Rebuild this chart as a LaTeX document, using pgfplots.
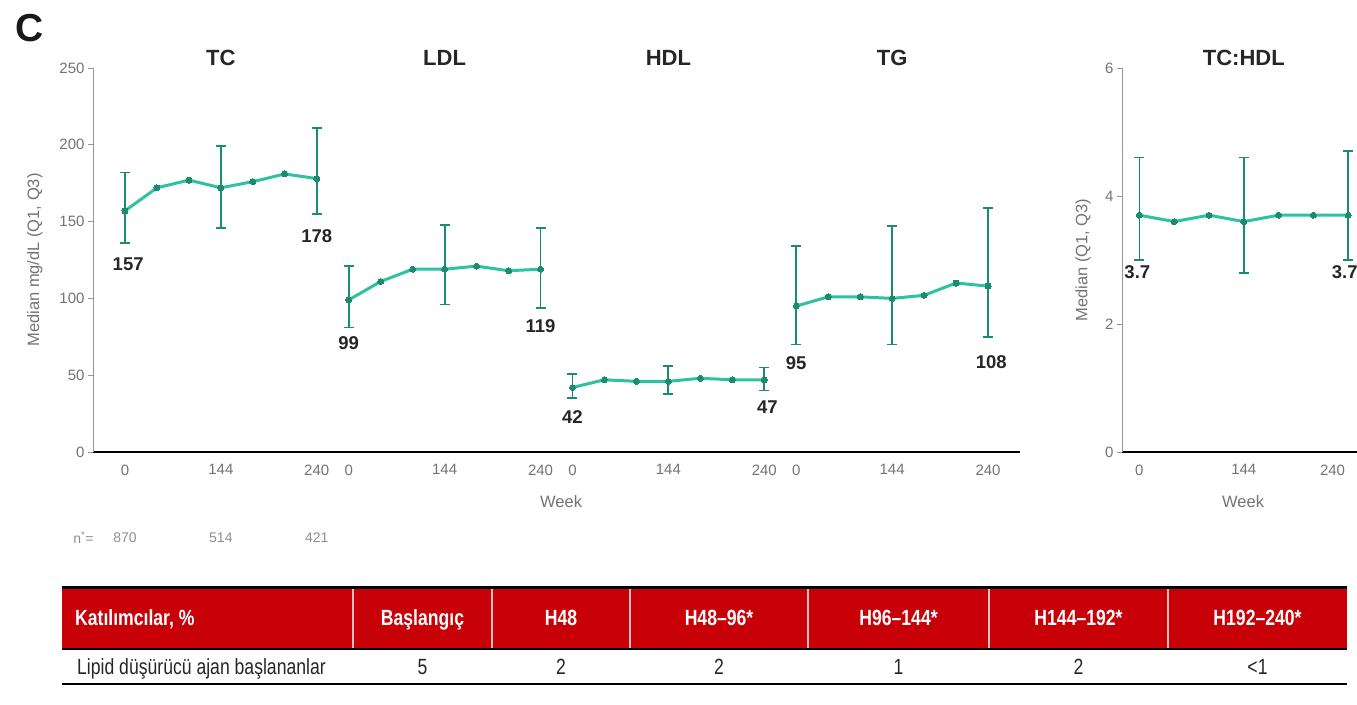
\documentclass[border=0pt]{standalone}
\usepackage{fontspec}
\setmainfont{Liberation Sans}
\newfontfamily\narrowfont[FakeStretch=0.8]{Liberation Sans}
\usepackage{pgfplots}
\pgfplotsset{compat=1.18}

\definecolor{lineteal}{RGB}{45,194,162}
\definecolor{barteal}{RGB}{28,140,112}
\definecolor{tickgray}{RGB}{115,115,115}
\definecolor{axisgray}{RGB}{150,150,150}
\definecolor{hdrred}{RGB}{200,0,8}
\definecolor{sepline}{RGB}{245,190,190}

\pgfplotsset{
  lipid/.style={
    scale only axis, height=384pt, ymin=0, clip=false,
    axis x line*=bottom, axis y line*=left,
    axis line style={-},
    x axis line style={line width=2pt, black},
    y axis line style={line width=0.8pt, axisgray},
    major x tick style={draw=none},
    major y tick style={axisgray, line width=0.8pt},
    tick align=outside, major tick length=5pt,
    /pgf/number format/assume math mode=true,
    tick label style={font=\fontsize{15}{15}\selectfont, text=tickgray},
    xticklabel style={yshift=-4pt},
    label style={font=\fontsize{16.5}{16.5}\selectfont, text=tickgray},
  },
  median/.style={lineteal, line width=3pt, mark=*, mark size=3pt,
    mark options={fill=barteal, draw=barteal, line width=0pt}},
  iqr/.style={draw=none, mark=none, forget plot,
    error bars/.cd, y dir=both, y explicit,
    error bar style={draw=barteal, line width=1.8pt},
    error mark options={rotate=90, draw=barteal, mark size=5pt, line width=1.8pt}},
}
\tikzset{
  vlbl/.style={font=\bfseries\fontsize{18.5}{18.5}\selectfont, text=black!85, inner sep=0pt},
  ttl/.style={font=\bfseries\fontsize{22}{22}\selectfont, text=black!85, yshift=10pt},
}

\begin{document}
\begin{tikzpicture}

\node[font=\bfseries\fontsize{39}{39}\selectfont, text=black!90] at (30pt,676pt) {C};

% Lipid panels TC, LDL, HDL, TG on one shared axis
\begin{axis}[lipid,
  width=927pt, at={(93pt,252pt)}, anchor=south west,
  xmin=-1, xmax=28, ymax=250,
  ytick={0,50,...,250},
  xtick={0,3,6,7,10,13,14,17,20,21,24,27},
  xticklabels={0,144,240,0,144,240,0,144,240,0,144,240},
  xlabel={Week}, ylabel={Median mg/dL (Q1, Q3)},
  xlabel style={at={(axis description cs:0.505,-0.13)}, anchor=center},
  ylabel style={at={(axis description cs:-0.0626,0.5)}, anchor=center},
]
% TC
\addplot[median] coordinates {(0,157) (1,172) (2,177) (3,172) (4,176) (5,181) (6,178)};
\addplot[iqr] coordinates {(0,157) += (0,25) -= (0,21)
  (3,172) += (0,27) -= (0,26) (6,178) += (0,33) -= (0,23)};
% LDL
\addplot[median] coordinates {(7,99) (8,111) (9,119) (10,119) (11,121) (12,118) (13,119)};
\addplot[iqr] coordinates {(7,99) += (0,22) -= (0,18)
  (10,119) += (0,29) -= (0,23) (13,119) += (0,27) -= (0,25)};
% HDL
\addplot[median] coordinates {(14,42) (15,47) (16,46) (17,46) (18,48) (19,47) (20,47)};
\addplot[iqr] coordinates {(14,42) += (0,9) -= (0,7)
  (17,46) += (0,10) -= (0,8) (20,47) += (0,8) -= (0,7)};
% TG
\addplot[median] coordinates {(21,95) (22,101) (23,101) (24,100) (25,102) (26,110) (27,108)};
\addplot[iqr] coordinates {(21,95) += (0,39) -= (0,25)
  (24,100) += (0,47) -= (0,30) (27,108) += (0,51) -= (0,33)};

% value labels
\node[vlbl] at (axis cs:0.1,122.4) {157};
\node[vlbl] at (axis cs:6,140.6) {178};
\node[vlbl] at (axis cs:7,71) {99};
\node[vlbl] at (axis cs:13,82) {119};
\node[vlbl] at (axis cs:14,22.8) {42};
\node[vlbl] at (axis cs:20.1,29.3) {47};
\node[vlbl] at (axis cs:21,58) {95};
\node[vlbl] at (axis cs:27.1,58.6) {108};

% panel titles
\node[ttl] at (axis cs:3,250) {TC};
\node[ttl] at (axis cs:10,250) {LDL};
\node[ttl] at (axis cs:17,250) {HDL};
\node[ttl] at (axis cs:24,250) {TG};

% participants per visit
\begin{scope}[font=\fontsize{14}{14}\selectfont, text=tickgray!80]
\node at (axis cs:-1.3,-56) {n\textsuperscript{*}=};
\node at (axis cs:0,-56) {870};
\node at (axis cs:3,-56) {514};
\node at (axis cs:6,-56) {421};
\end{scope}
\end{axis}

% TC:HDL ratio
\begin{axis}[lipid,
  width=243.6pt, at={(1122pt,252pt)}, anchor=south west,
  xmin=-0.5, xmax=6.5, ymax=6,
  ytick={0,2,4,6},
  xtick={0,3,5.55}, xticklabels={0,144,240},
  xlabel={Week}, ylabel={Median (Q1, Q3)},
  xlabel style={at={(axis description cs:0.497,-0.13)}, anchor=center},
  ylabel style={at={(axis description cs:-0.16,0.5)}, anchor=center},
]
\addplot[median] coordinates {(0,3.7) (1,3.6) (2,3.7) (3,3.6) (4,3.7) (5,3.7) (6,3.7)};
\addplot[iqr] coordinates {(0,3.7) += (0,0.9) -= (0,0.7)
  (3,3.6) += (0,1.0) -= (0,0.8) (6,3.7) += (0,1.0) -= (0,0.7)};
\node[vlbl] at (axis cs:-0.06,2.81) {3.7};
\node[vlbl] at (axis cs:5.9,2.81) {3.7};
\node[ttl] at (axis cs:3,6) {TC:HDL};
\end{axis}

% table of lipid-lowering agent initiation
\fill[hdrred] (62pt,55pt) rectangle (1347pt,116pt);
\foreach \xs in {353,492,630,808,989,1168}
  \draw[sepline, line width=1.2pt] (\xs pt,56pt) -- (\xs pt,115pt);
\draw[black, line width=3pt] (62pt,116pt) -- (1347pt,116pt);
\draw[black, line width=2.5pt] (62pt,55pt) -- (1347pt,55pt);
\draw[black, line width=2pt] (62pt,20pt) -- (1347pt,20pt);

\begin{scope}[font=\narrowfont\bfseries\fontsize{22}{22}\selectfont, text=white, inner sep=0pt]
\node[anchor=base west] at (75pt,78pt) {Katılımcılar, \%};
\node[anchor=base] at (422.5pt,78pt) {Başlangıç};
\node[anchor=base] at (561pt,78pt) {H48};
\node[anchor=base] at (719pt,78pt) {H48–96*};
\node[anchor=base] at (898.5pt,78pt) {H96–144*};
\node[anchor=base] at (1078.5pt,78pt) {H144–192*};
\node[anchor=base] at (1257.5pt,78pt) {H192–240*};
\end{scope}
\begin{scope}[font=\narrowfont\fontsize{22}{22}\selectfont, text=black!85, inner sep=0pt]
\node[anchor=base west] at (77pt,29pt) {Lipid düşürücü ajan başlananlar};
\node[anchor=base] at (422.5pt,29pt) {5};
\node[anchor=base] at (561pt,29pt) {2};
\node[anchor=base] at (719pt,29pt) {2};
\node[anchor=base] at (898.5pt,29pt) {1};
\node[anchor=base] at (1078.5pt,29pt) {2};
\node[anchor=base] at (1257.5pt,29pt) {<1};
\end{scope}

\pgfresetboundingbox
\path[use as bounding box] (0pt,0pt) rectangle (1357pt,704pt);
\end{tikzpicture}
\end{document}
